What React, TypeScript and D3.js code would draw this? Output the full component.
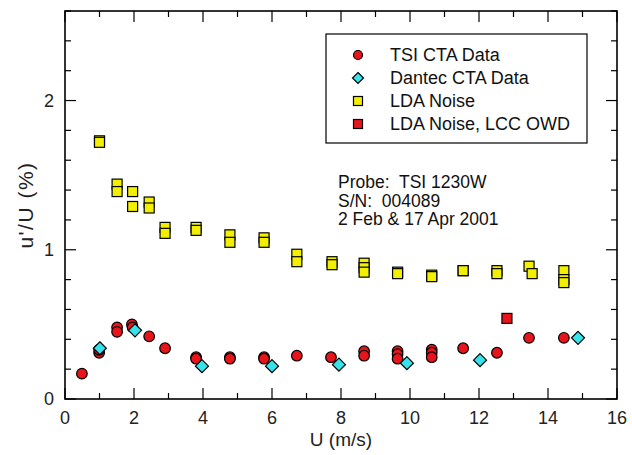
import React from "react";
import * as d3 from "d3";

const W = 632, H = 455;
const M = { left: 65, right: 15, top: 11, bottom: 56 };

// TSI CTA Data: [U, u'/U]
const tsiU = [0.49, 0.99, 0.99, 1.51, 1.51, 1.94, 1.96, 2.44, 2.9, 3.8, 3.8, 4.78, 4.78, 5.77, 5.77, 6.72, 7.71, 8.67, 8.67, 9.64, 9.64, 9.64, 10.63, 10.63, 10.63, 11.54, 12.52, 13.45, 14.46];
const tsiV = [0.17, 0.31, 0.33, 0.48, 0.45, 0.50, 0.48, 0.42, 0.34, 0.28, 0.27, 0.28, 0.27, 0.28, 0.27, 0.29, 0.28, 0.32, 0.29, 0.32, 0.30, 0.27, 0.33, 0.31, 0.28, 0.34, 0.31, 0.41, 0.41];

// Dantec CTA Data
const danU = [1.01, 2.03, 3.97, 6.0, 7.94, 9.91, 12.03, 14.87];
const danV = [0.34, 0.46, 0.22, 0.22, 0.23, 0.24, 0.26, 0.41];

// LDA Noise
const ldaU = [1.0, 1.0, 1.51, 1.51, 1.96, 1.96, 2.44, 2.44, 2.9, 2.9, 3.8, 3.8, 4.78, 4.78, 5.77, 5.77, 6.72, 6.72, 7.74, 7.74, 8.67, 8.67, 8.67, 9.64, 9.64, 10.63, 10.63, 11.54, 11.54, 12.52, 12.52, 13.45, 13.54, 14.46, 14.46, 14.46];
const ldaV = [1.73, 1.72, 1.44, 1.39, 1.39, 1.29, 1.32, 1.28, 1.15, 1.11, 1.15, 1.13, 1.10, 1.05, 1.08, 1.05, 0.97, 0.92, 0.92, 0.90, 0.91, 0.88, 0.85, 0.85, 0.84, 0.83, 0.82, 0.86, 0.86, 0.86, 0.84, 0.89, 0.84, 0.86, 0.80, 0.78];

// LDA Noise, LCC OWD
const lccU = [12.81];
const lccV = [0.54];

const xTicks = [0, 2, 4, 6, 8, 10, 12, 14, 16];
const yTicks = [0, 1, 2];
const legendLabels = ["TSI CTA Data", "Dantec CTA Data", "LDA Noise", "LDA Noise, LCC OWD"];
const probeLines = ["Probe:  TSI 1230W", "S/N:  004089", "2 Feb & 17 Apr 2001"];

const RED = "#e8141c";
const CYAN = "#38e2ea";
const YELLOW = "#f2f000";
const FONT = "'Liberation Sans', Arial, sans-serif";

export default function App() {
  const x = d3.scaleLinear().domain([0, 16]).range([M.left, W - M.right]);
  const y = d3.scaleLinear().domain([0, 2.6]).range([H - M.bottom, M.top]);
  const x0 = x(0), x1 = x(16), y0 = y(0), y1 = y(2.6);

  const xMinor = d3.range(0, 17, 1);
  const yMinor = d3.range(0, 2.61, 0.2).map((v) => Math.round(v * 10) / 10);
  const isMajorY = (v: number) => Math.abs(v - Math.round(v)) < 1e-6;

  const sq = (cx: number, cy: number, s: number, fill: string, key: string) => (
    <rect key={key} x={cx - s / 2} y={cy - s / 2} width={s} height={s} fill={fill} stroke="#000" strokeWidth={1.2} />
  );
  const circ = (cx: number, cy: number, r: number, key: string) => (
    <circle key={key} cx={cx} cy={cy} r={r} fill={RED} stroke="#000" strokeWidth={1.2} />
  );
  const diam = (cx: number, cy: number, r: number, key: string) => (
    <path key={key} d={`M${cx},${cy - r}L${cx + r},${cy}L${cx},${cy + r}L${cx - r},${cy}Z`} fill={CYAN} stroke="#000" strokeWidth={1.2} />
  );

  const legX = 326, legY = 34, legW = 261, legH = 109;
  const rowY = [55, 78, 101, 124];
  const symX = 358, txtX = 390;

  return (
    <div style={{ position: "absolute", left: 0, top: 0 }}>
      <svg width={W} height={H} style={{ display: "block", background: "#fff" }} fontFamily={FONT}>
        {/* ticks */}
        {xMinor.map((v) => {
          const len = v % 2 === 0 ? 11 : 6;
          return (
            <g key={"xt" + v} stroke="#000" strokeWidth={1.2}>
              <line x1={x(v)} x2={x(v)} y1={y0} y2={y0 - len} />
              <line x1={x(v)} x2={x(v)} y1={y1} y2={y1 + len} />
            </g>
          );
        })}
        {yMinor.map((v) => {
          const len = isMajorY(v) ? 11 : 6;
          return (
            <g key={"yt" + v} stroke="#000" strokeWidth={1.2}>
              <line x1={x0} x2={x0 + len} y1={y(v)} y2={y(v)} />
              <line x1={x1} x2={x1 - len} y1={y(v)} y2={y(v)} />
            </g>
          );
        })}
        {/* frame */}
        <rect x={x0} y={y1} width={x1 - x0} height={y0 - y1} fill="none" stroke="#000" strokeWidth={1.6} />
        {/* tick labels */}
        {xTicks.map((v) => (
          <text key={"xl" + v} x={x(v)} y={y0 + 25} textAnchor="middle" fontSize={18} fill="#222">{v}</text>
        ))}
        {yTicks.map((v) => (
          <text key={"yl" + v} x={x0 - 11} y={y(v) + 6} textAnchor="end" fontSize={18} fill="#222">{v}</text>
        ))}
        <text x={(x0 + x1) / 2} y={446} textAnchor="middle" fontSize={19} fill="#222">U (m/s)</text>
        <text transform={`translate(33,205) rotate(-90)`} textAnchor="middle" fontSize={21} letterSpacing={1.5} fill="#222">u'/U (%)</text>

        {/* data */}
        {ldaU.map((u, i) => sq(x(u), y(ldaV[i]), 10, YELLOW, "l" + i))}
        {lccU.map((u, i) => sq(x(u), y(lccV[i]), 10, RED, "c" + i))}
        {tsiU.map((u, i) => circ(x(u), y(tsiV[i]), 5.3, "t" + i))}
        {danU.map((u, i) => diam(x(u), y(danV[i]), 6.5, "d" + i))}

        {/* legend */}
        <rect x={legX} y={legY} width={legW} height={legH} fill="#fff" stroke="#000" strokeWidth={1.2} />
        {circ(symX, rowY[0], 4.5, "lg0")}
        {diam(symX, rowY[1], 5.5, "lg1")}
        {sq(symX, rowY[2], 9, YELLOW, "lg2")}
        {sq(symX, rowY[3], 9, RED, "lg3")}
        {legendLabels.map((t, i) => (
          <text key={"lt" + i} x={txtX} y={rowY[i] + 6} fontSize={18} fill="#111">{t}</text>
        ))}

        {probeLines.map((t, i) => (
          <text key={"p" + i} x={338} y={188 + i * 18.7} fontSize={17.5} fill="#111" style={{ whiteSpace: "pre" }}>{t}</text>
        ))}
      </svg>
    </div>
  );
}
